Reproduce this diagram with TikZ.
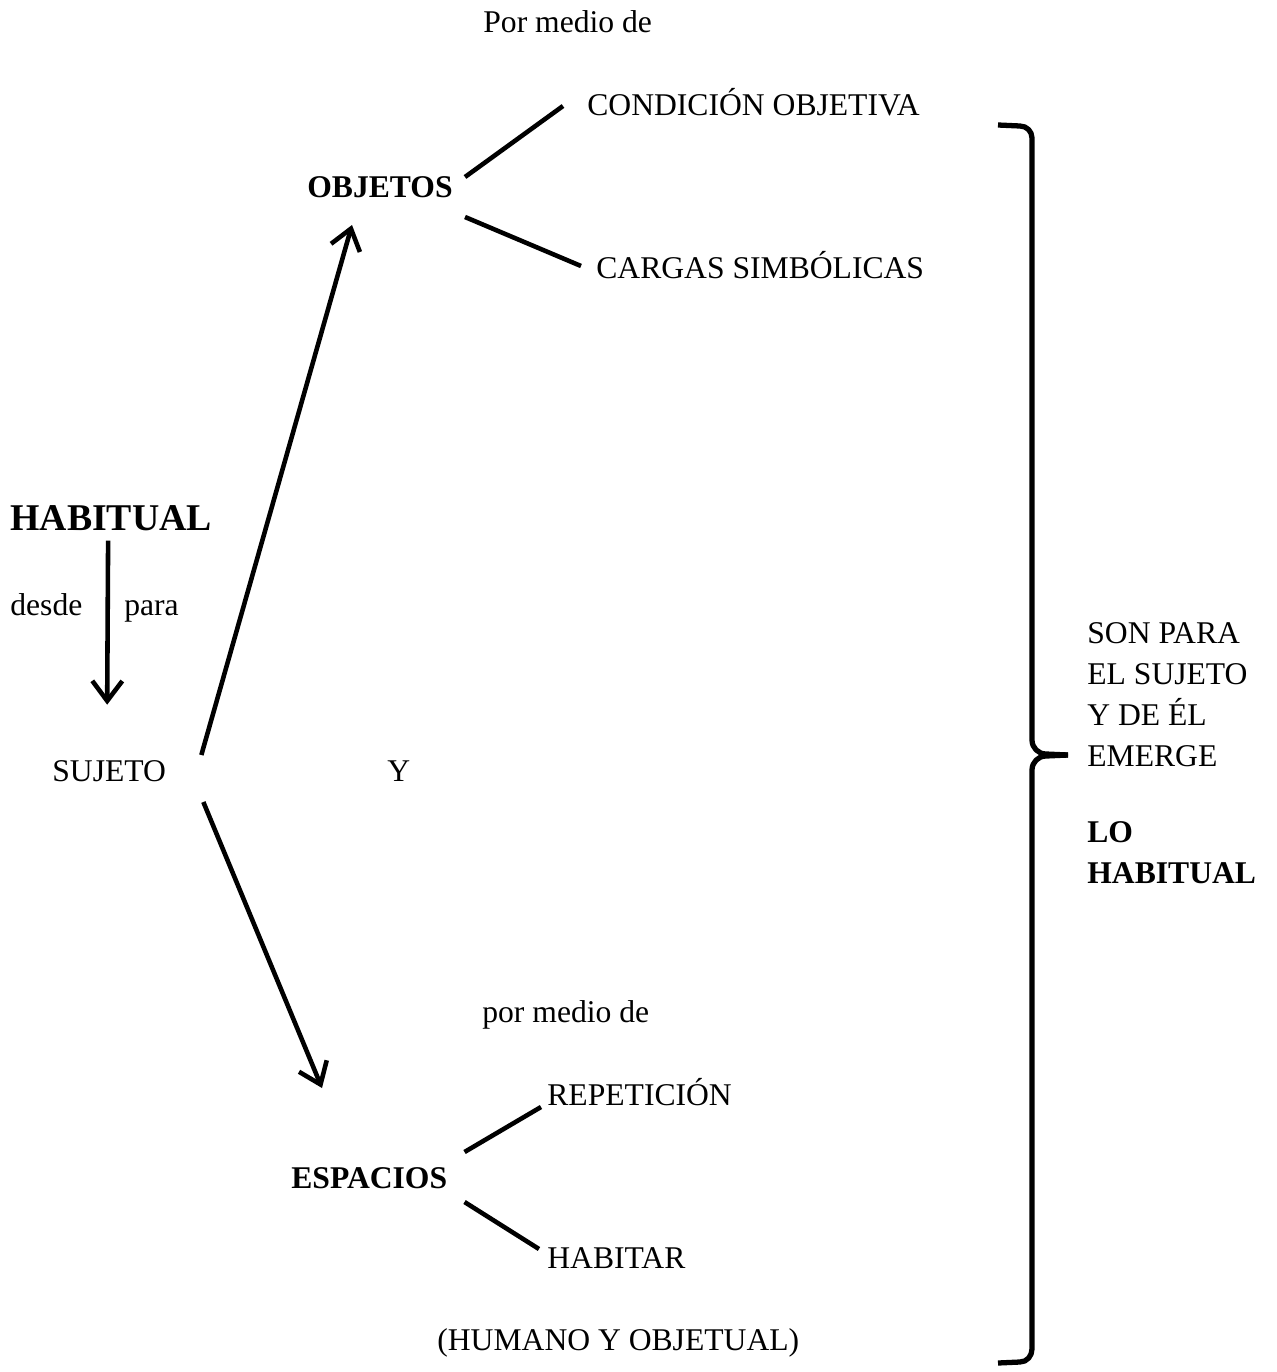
\documentclass[tikz,border=0pt]{standalone}
\usepackage{fontspec}
\setmainfont{Liberation Serif}
\usetikzlibrary{positioning,arrows.meta,calc}

\begin{document}
\begin{tikzpicture}[x=0.02cm,y=-0.02cm,
  txt/.style={inner sep=0pt,anchor=base west,font=\fontsize{18}{23.2}\selectfont},
  bld/.style={txt,font=\fontsize{18}{23.2}\selectfont\bfseries},
  arr/.style={-{Straight Barb[length=4mm,width=6mm]},line width=2.6pt},
  rama/.style={line width=2.6pt},
  llave/.style={line width=3pt,line join=round}]
\useasboundingbox (0,0) rectangle (1277,1372);
% izquierda
\node[txt,font=\fontsize{21.5}{26}\selectfont\bfseries] (habitual) at (10,530) {HABITUAL};
\node[txt] (desde) at (10,615) {desde};
\node[txt] (para) at (124,615) {para};
\node[txt] (sujeto) at (52,781) {SUJETO};
\node[txt] (conj) at (387,781) {Y};
% arriba
\node[txt] (pormedio) at (483,33) {Por medio de};
\node[bld] (objetos) at (307,197) {OBJETOS};
\node[txt] (condicion) at (587,115) {CONDICIÓN OBJETIVA};
\node[txt] (cargas) at (596,278) {CARGAS SIMBÓLICAS};
% abajo
\node[txt] (pormedio2) at (482,1022) {por medio de};
\node[bld] (espacios) at (291,1188) {ESPACIOS};
\node[txt] (repeticion) at (547,1105) {REPETICIÓN};
\node[txt] (habitar) at (547,1268) {HABITAR};
\node[txt] (humano) at (437,1350) {(HUMANO Y OBJETUAL)};
% derecha
\node[txt,align=left] (son) at (1087,766) {SON PARA\\EL SUJETO\\Y DE ÉL\\EMERGE};
\node[bld,align=left] (lo) at (1087,883) {LO\\HABITUAL};
% flechas
\draw[arr] ([shift={(-3,10)}]habitual.south) -- ([shift={(-2,-55)}]sujeto.north);
\draw[arr] ([shift={(35,-26)}]sujeto.base east) -- ([shift={(45,28)}]objetos.base west);
\draw[arr] ([shift={(37,21)}]sujeto.base east) -- ([shift={(31,-100)}]espacios.base west);
% ramas
\draw[rama] ([shift={(12,-20)}]objetos.base east) -- ([shift={(-24,-9)}]condicion.base west);
\draw[rama] ([shift={(12,20)}]objetos.base east) -- ([shift={(-15,-12)}]cargas.base west);
\draw[rama] ([shift={(17,-36)}]espacios.base east) -- ([shift={(-6,2)}]repeticion.base west);
\draw[rama] ([shift={(17,14)}]espacios.base east) -- ([shift={(-8,-19)}]habitar.base west);
% llave
\coordinate (punta) at (1068,755);
\draw[llave] (998,125) -- (1020,126) to[out=0,in=90] (1032,138) -- (1032,740)
  to[out=-90,in=180] (1046,754) -- (punta);
\draw[llave] (punta) -- (1046,756) to[out=180,in=90] (1032,770) -- (1032,1349)
  to[out=-90,in=0] (1020,1362) -- (998,1363);
\end{tikzpicture}
\end{document}
